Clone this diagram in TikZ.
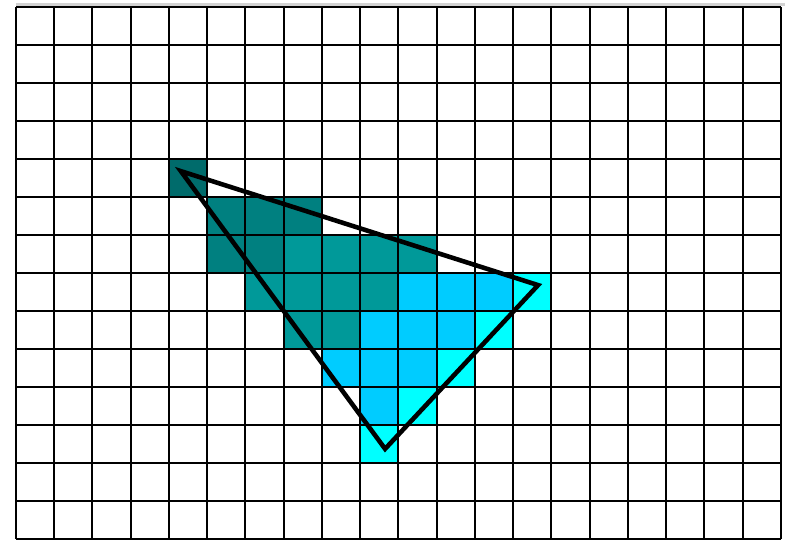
\documentclass[tikz,border=0pt]{standalone}
\definecolor{tealA}{RGB}{0,107,107}
\definecolor{tealB}{RGB}{0,128,128}
\definecolor{tealC}{RGB}{0,153,153}
\definecolor{skyD}{RGB}{0,204,255}
\definecolor{cyanE}{RGB}{0,255,255}
\begin{document}
\begin{tikzpicture}[x={(0.5cm,0)},y={(0,-0.4967cm)}]
\useasboundingbox (-0.418,-0.184) rectangle (20.105,14.026);
% pixels covered by the triangle
\foreach \c/\r/\col in {4/4/tealA,
  5/5/tealB,6/5/tealB,7/5/tealB,
  5/6/tealB,6/6/tealB,7/6/tealC,8/6/tealC,9/6/tealC,10/6/tealC,
  6/7/tealC,7/7/tealC,8/7/tealC,9/7/tealC,10/7/skyD,11/7/skyD,12/7/skyD,13/7/cyanE,
  7/8/tealC,8/8/tealC,9/8/skyD,10/8/skyD,11/8/skyD,12/8/cyanE,
  8/9/skyD,9/9/skyD,10/9/skyD,11/9/cyanE,
  9/10/skyD,10/10/cyanE,
  9/11/cyanE}
  \fill[\col](\c,\r) rectangle ++(1,1);
\draw[gray!35,line width=1pt](0,-0.07)--(20.5,-0.07);
\foreach \i in {0,...,20} \draw[line width=0.75pt](\i,0)--(\i,14);
\foreach \j in {0,...,14} \draw[line width=0.75pt](0,\j)--(20,\j);
% the triangle
\coordinate (A) at (4.31,4.32);
\coordinate (B) at (13.65,7.32);
\coordinate (C) at (9.65,11.63);
\draw[line width=1.7pt,line join=miter](A)--(B)--(C)--cycle;
\end{tikzpicture}
\end{document}
